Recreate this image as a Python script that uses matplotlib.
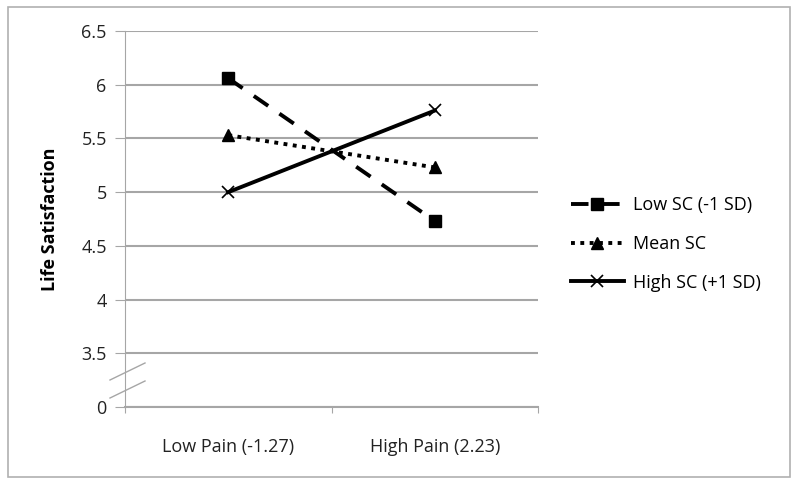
import matplotlib
matplotlib.use("Agg")
import matplotlib.pyplot as plt
from matplotlib.patches import Rectangle
from matplotlib.lines import Line2D

plt.rcParams['font.family'] = ['Open Sans', 'DejaVu Sans']

categories = ['Low Pain (-1.27)', 'High Pain (2.23)']
low_sc = [6.06, 4.73]
mean_sc = [5.53, 5.23]
high_sc = [5.0, 5.76]
series_names = ['Low SC (-1 SD)', 'Mean SC', 'High SC (+1 SD)']

# the axis is broken: the bottom tick stands for 0
y_ticks = [3.0, 3.5, 4.0, 4.5, 5.0, 5.5, 6.0, 6.5]
y_labels = ['0', '3.5', '4', '4.5', '5', '5.5', '6', '6.5']

GRID = '#a6a6a6'
TXT = '#222222'

fig = plt.figure(figsize=(8, 4.84), dpi=100)
fig.patches.append(Rectangle((0.010, 0.015), 0.978, 0.970, transform=fig.transFigure,
                             fill=False, edgecolor='#b0b0b0', linewidth=1.2))

ax = fig.add_axes([0.156, 0.159, 0.517, 0.777])
x = [0.5, 1.5]

ax.plot(x, low_sc, color='black', lw=2.8, ls=(0, (4.5, 3.5)), marker='s', ms=8.5, label=series_names[0])
ax.plot(x, mean_sc, color='black', lw=2.8, ls=(0, (1, 1.4)), marker='^', ms=8.5, label=series_names[1])
ax.plot(x, high_sc, color='black', lw=2.8, ls='-', marker='x', ms=9, mew=1.2, label=series_names[2])

ax.set_xlim(0, 2)
ax.set_ylim(3.0, 6.5)
ax.set_yticks(y_ticks)
ax.set_yticklabels(y_labels, fontsize=13, color=TXT)
ax.set_xticks([0, 1, 2])
ax.set_xticklabels([])
ax.set_xticks(x, minor=True)
ax.set_xticklabels(categories, minor=True, fontsize=13, color=TXT)
ax.tick_params(axis='x', which='minor', length=0, pad=22)
ax.tick_params(axis='x', which='major', length=4, color=GRID, direction='out')
ax.tick_params(axis='y', length=7, color=GRID, pad=6)

ax.yaxis.grid(True, color=GRID, lw=1.5)
ax.set_axisbelow(True)
for s in ['top', 'right']:
    ax.spines[s].set_visible(False)
ax.spines['left'].set_color(GRID)
ax.spines['bottom'].set_color(GRID)
ax.spines['bottom'].set_linewidth(1.5)

ax.set_ylabel('Life Satisfaction', fontsize=13, fontweight='bold')
ax.yaxis.set_label_coords(-0.158, 0.5)

# axis break marks
for y0 in (380, 398):
    fig.add_artist(Line2D([110 / 800, 145 / 800], [1 - y0 / 484, 1 - (y0 - 17) / 484],
                          color=GRID, lw=1.0))

ax.legend(loc='center left', bbox_to_anchor=(1.04, 0.434), frameon=False, fontsize=13,
          handlelength=2.9, handletextpad=0.5, labelspacing=1.15)

fig.savefig('out.png', dpi=100)
